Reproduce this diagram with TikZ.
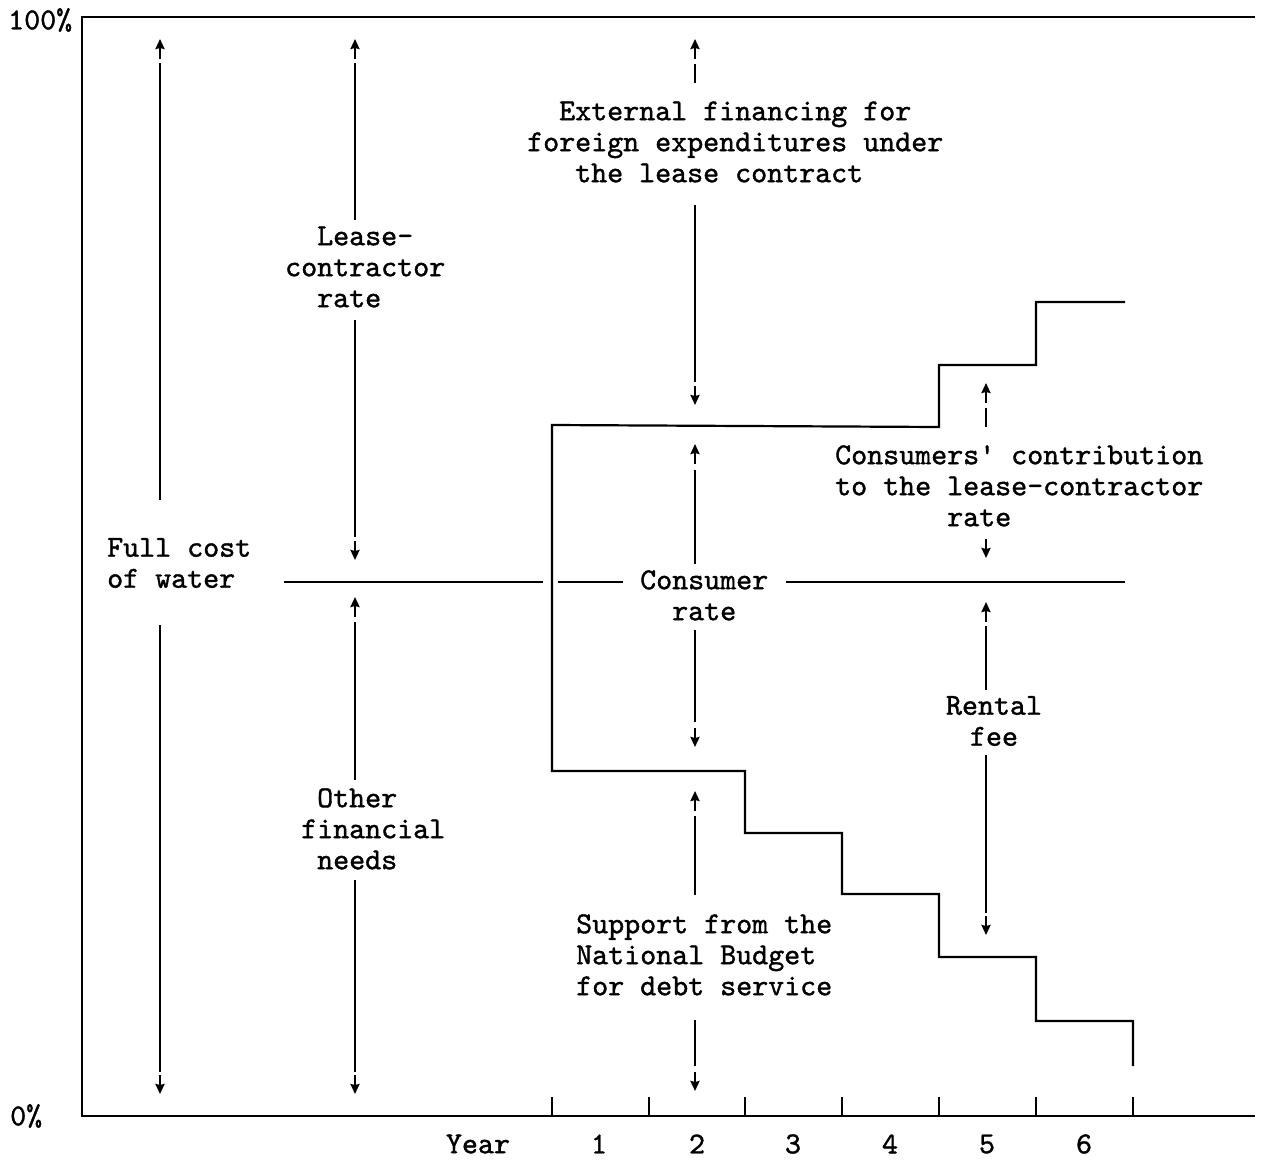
\documentclass[tikz,border=0pt]{standalone}
\usepackage{fontspec}
\newfontfamily\tw{lmmono10-regular.otf}[FakeBold=1.2]
\usetikzlibrary{arrows.meta}
\begin{document}
\begin{tikzpicture}[x=1pt,y=-1pt,
  ln/.style={line width=2.2pt},
  au/.style={line width=2.2pt,-{Stealth[length=10pt,width=9pt,inset=1pt]}},
  lbl/.style={inner sep=0pt,font=\tw\fontsize{30.48}{31}\selectfont},
]
\useasboundingbox (0,0) rectangle (1266,1159);
% axes
\draw[ln] (1255,17) -- (82,17) -- (82,1116) -- (1255,1116);
\foreach \x in {552,649,745,842,939,1036,1133} \draw[ln] (\x,1097) -- (\x,1116);
\node[lbl,anchor=west] (p100) at (8,20) {100\%};
\node[lbl,anchor=west] (p0) at (10,1116) {0\%};
\node[lbl] (yr) at (478,1144) {Year};
\node[lbl] (y1) at (599,1144) {1};
\node[lbl] (y2) at (697,1144) {2};
\node[lbl] (y3) at (793,1144) {3};
\node[lbl] (y4) at (890,1144) {4};
\node[lbl] (y5) at (987,1144) {5};
\node[lbl] (y6) at (1084,1144) {6};
% staircases
\draw[ln] (1125,302) -- (1036,302) -- (1036,365) -- (939,365) -- (939,427) -- (552,425) -- (552,771) -- (745,771) -- (745,833) -- (842,833) -- (842,894) -- (939,894) -- (939,957) -- (1036,957) -- (1036,1021) -- (1133,1021) -- (1133,1066);
% middle line
\draw[ln] (284,582) -- (543,582);
\draw[ln] (558,582) -- (623,582);
\draw[ln] (786,582) -- (1125,582);
% labels
\node[lbl,align=left,anchor=west] (full) at (107,566) {\strut Full cost\\\strut of water};
\node[lbl,align=left,anchor=west] (lease) at (285,270) {\strut\hphantom{aa}Lease-\\\strut contractor\\\strut\hphantom{aa}rate};
\node[lbl,align=left,anchor=west] (other) at (301,832) {\strut\hphantom{a}Other\\\strut financial\\\strut\hphantom{a}needs};
\node[lbl,align=left,anchor=west] (ext) at (527,145) {\strut\hphantom{aa}External financing for\\\strut foreign expenditures under\\\strut\hphantom{aaa}the lease contract};
\node[lbl,align=left,anchor=west] (contrib) at (835,489) {\strut Consumers' contribution\\\strut to the lease-contractor\\\strut\hphantom{aaaaaaa}rate};
\node[lbl,align=left,anchor=west] (cons) at (640,598.5) {\strut Consumer\\\strut\hphantom{aa}rate};
\node[lbl,align=center] (rental) at (994,724) {\strut Rental\\\strut fee};
\node[lbl,align=left,anchor=west] (support) at (576,958) {\strut Support from the\\\strut National Budget\\\strut for debt service};
% full cost of water
\draw[au] (160,59) -- (160,39);
\draw[ln] (160,63) -- (160,500);
\draw[ln] (160,625) -- (160,1072);
\draw[au] (160,1075) -- (160,1094);
% lease-contractor rate
\draw[au] (355,59) -- (355,39);
\draw[ln] (355,63) -- (355,220);
\draw[ln] (355,320) -- (355,537);
\draw[au] (355,541) -- (355,560);
% other financial needs
\draw[au] (355,617) -- (355,597);
\draw[ln] (355,622) -- (355,780);
\draw[ln] (355,880) -- (355,1072);
\draw[au] (355,1075) -- (355,1094);
% external financing
\draw[au] (695,59) -- (695,39);
\draw[ln] (695,64) -- (695,83);
\draw[ln] (695,205) -- (695,382);
\draw[au] (695,386) -- (695,405);
% consumer rate
\draw[au] (695,464) -- (695,444);
\draw[ln] (695,470) -- (695,564);
\draw[ln] (695,630) -- (695,722);
\draw[au] (695,728) -- (695,747);
% support
\draw[au] (695,811) -- (695,791);
\draw[ln] (695,816) -- (695,895);
\draw[ln] (695,1020) -- (695,1066);
\draw[au] (695,1072) -- (695,1091);
% consumers' contribution
\draw[au] (986,403) -- (986,383);
\draw[ln] (986,408) -- (986,427);
\draw[au] (986,539) -- (986,558);
% rental fee
\draw[au] (986,622) -- (986,602);
\draw[ln] (986,626) -- (986,690);
\draw[ln] (986,755) -- (986,913);
\draw[au] (986,916) -- (986,935);
\end{tikzpicture}
\end{document}
